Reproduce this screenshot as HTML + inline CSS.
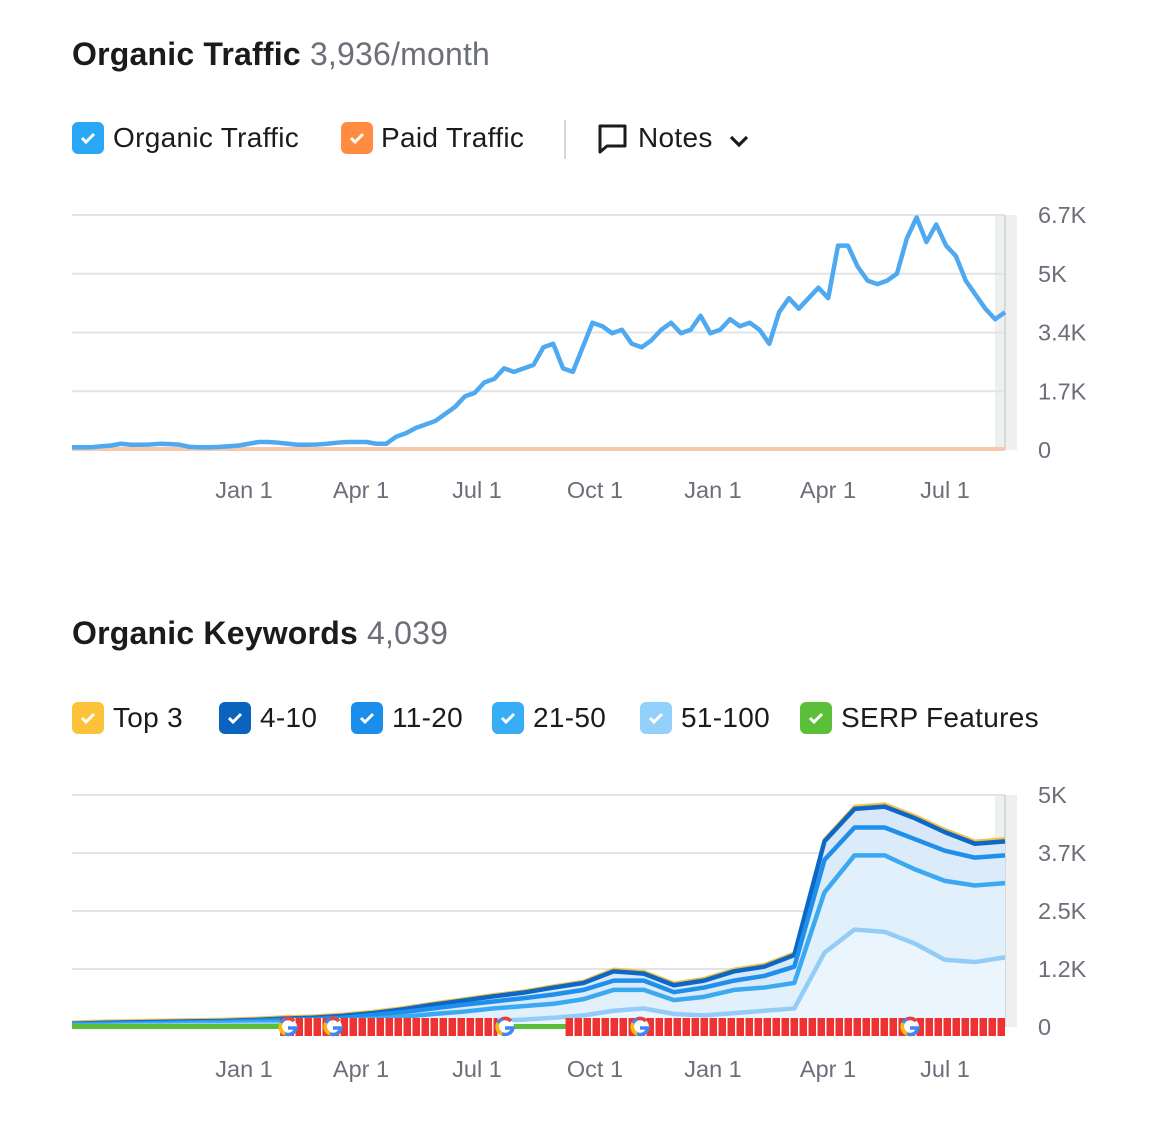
<!DOCTYPE html>
<html><head><meta charset="utf-8"><style>
body{margin:0;background:#fff;width:1160px;height:1142px;overflow:hidden;font-family:"Liberation Sans",sans-serif;position:relative}
.t{position:absolute;white-space:nowrap}
.title{font-size:32px;font-weight:bold;color:#1b1b1d;letter-spacing:0.2px}
.title span{font-weight:normal;color:#6c6e79}
.leg{font-size:28px;color:#1b1b1d;line-height:32px;letter-spacing:0.3px}
.cb{position:absolute;width:32px;height:32px;border-radius:6px}
.cb svg{position:absolute;left:0;top:0}
svg text{font-family:"Liberation Sans",sans-serif}
</style></head><body>
<div class="t title" style="left:72px;top:36px">Organic Traffic <span>3,936/month</span></div>
<div><div class="cb" style="left:72px;top:122px;background:#2ba8f5"><svg width="32" height="32"><path d="M10 16l4 4 8-8" stroke="#fff" stroke-width="3" fill="none"/></svg></div><div class="t leg" style="left:113px;top:122px">Organic Traffic</div></div>
<div><div class="cb" style="left:341px;top:122px;background:#ff8c40"><svg width="32" height="32"><path d="M10 16l4 4 8-8" stroke="#fff" stroke-width="3" fill="none"/></svg></div><div class="t leg" style="left:381px;top:122px">Paid Traffic</div></div>
<div style="position:absolute;left:564px;top:120px;width:2px;height:39px;background:#d6d6d9"></div>
<div><svg style="position:absolute;left:597px;top:123px" width="32" height="32"><path d="M3 3h25v20H10l-7 6z" stroke="#1b1b1d" stroke-width="3" fill="none" stroke-linejoin="round"/></svg><div class="t leg" style="left:638px;top:122px">Notes</div><svg style="position:absolute;left:728px;top:132px" width="22" height="18"><path d="M3 5l8 8 8-8" stroke="#1b1b1d" stroke-width="3.2" fill="none"/></svg></div>

<div class="t title" style="left:72px;top:615px">Organic Keywords <span>4,039</span></div>
<div id="kwleg"></div>

<svg id="c1" style="position:absolute;left:0;top:0" width="1160" height="560"></svg>
<svg id="c2" style="position:absolute;left:0;top:560px" width="1160" height="582"></svg>

<script>
const xTicks=["Jan 1","Apr 1","Jul 1","Oct 1","Jan 1","Apr 1","Jul 1"];
const trafficTicks=["0","1.7K","3.4K","5K","6.7K"];
const trafficTickVals=[0,1.675,3.35,5.025,6.7];
const organicTraffic=[0.05,0.05,0.05,0.08,0.1,0.15,0.12,0.12,0.13,0.15,0.14,0.12,0.06,0.05,0.05,0.06,0.08,0.1,0.15,0.2,0.2,0.18,0.15,0.12,0.12,0.13,0.15,0.18,0.2,0.2,0.2,0.15,0.15,0.35,0.45,0.6,0.7,0.8,1.0,1.2,1.5,1.6,1.9,2.0,2.3,2.2,2.3,2.4,2.9,3.0,2.3,2.2,2.9,3.6,3.5,3.3,3.4,3.0,2.9,3.1,3.4,3.6,3.3,3.4,3.8,3.3,3.4,3.7,3.5,3.6,3.4,3.0,3.9,4.3,4.0,4.3,4.6,4.3,5.8,5.8,5.2,4.8,4.7,4.8,5.0,6.0,6.6,5.9,6.4,5.8,5.5,4.8,4.4,4.0,3.7,3.9];
const paidTraffic=organicTraffic.map(()=>0);
const kwTicks=["0","1.2K","2.5K","3.7K","5K"];
const kwTickVals=[0,1.25,2.5,3.75,5];
const kw51=[0.02,0.02,0.03,0.03,0.04,0.04,0.05,0.05,0.05,0.06,0.07,0.08,0.09,0.11,0.13,0.16,0.2,0.25,0.35,0.4,0.28,0.25,0.3,0.35,0.4,1.6,2.1,2.05,1.8,1.45,1.4,1.5];
const kw21=[0.02,0.03,0.03,0.04,0.04,0.05,0.05,0.05,0.07,0.08,0.11,0.14,0.19,0.22,0.27,0.29,0.3,0.35,0.45,0.4,0.3,0.4,0.5,0.5,0.55,1.3,1.6,1.65,1.6,1.7,1.65,1.6];
const kw11=[0.02,0.02,0.02,0.02,0.02,0.02,0.03,0.05,0.05,0.06,0.08,0.1,0.12,0.15,0.15,0.17,0.2,0.2,0.2,0.2,0.17,0.2,0.2,0.25,0.35,0.7,0.6,0.6,0.65,0.65,0.6,0.6];
const kw4=[0.01,0.02,0.02,0.02,0.02,0.02,0.02,0.03,0.03,0.04,0.04,0.06,0.08,0.09,0.11,0.12,0.15,0.15,0.2,0.15,0.15,0.15,0.2,0.2,0.25,0.4,0.4,0.45,0.45,0.4,0.3,0.3];
const kwTop3=[0.04,0.04,0.04,0.04,0.04,0.04,0.04,0.04,0.04,0.04,0.04,0.04,0.04,0.04,0.04,0.04,0.04,0.04,0.05,0.05,0.05,0.05,0.05,0.05,0.05,0.05,0.06,0.06,0.06,0.06,0.06,0.06];
const legendNames=["Top 3","4-10","11-20","21-50","51-100","SERP Features"];
const legendColors=["#fbc23a","#0a63bd","#1a8eea","#36adf4","#93d0fb","#5cbf3a"];
const serpGaps=[[0,0.223],[0.456,0.529]];

const NS="http://www.w3.org/2000/svg";
function mk(p,tag,a){const e=document.createElementNS(NS,tag);for(const k in a)e.setAttribute(k,a[k]);p.appendChild(e);return e;}
const X0=72,X1=1005;
const tickX=[244,361,477,595,713,828,945];
function xIdx(i,n){return X0+(X1-X0)*i/(n-1);}

const leg=document.getElementById('kwleg');
const lx=[72,219,351,492,640,800];
legendNames.forEach((n,i)=>{
  const d=document.createElement('div');
  
  
  d.innerHTML='<div class="cb" style="left:'+lx[i]+'px;top:702px;background:'+legendColors[i]+'"><svg width="32" height="32"><path d="M10 16l4 4 8-8" stroke="#fff" stroke-width="3" fill="none"/></svg></div><div class="t leg" style="left:'+(lx[i]+41)+'px;top:702px">'+n+'</div>';
  leg.appendChild(d);
});

function axes(svg,yTop,yBot,ticks,vals,max,labelY){
  const y=v=>yBot-(yBot-yTop)*v/max;
  mk(svg,'rect',{x:995,y:yTop,width:22,height:yBot-yTop,fill:'#eef0f0'});
  vals.forEach((v,i)=>{
    const l=mk(svg,'line',{x1:X0,x2:1005,y1:y(v),y2:y(v),stroke:'#e2e3e6','stroke-width':2});
    
    const t=mk(svg,'text',{x:1038,y:y(v)+8,'font-size':23.5,fill:'#6c6e79'});t.textContent=ticks[i];
    
  });
  mk(svg,'line',{x1:1005,x2:1005,y1:yTop,y2:yBot,stroke:'#d5d9d9','stroke-width':2});
  xTicks.forEach((s,i)=>{
    const t=mk(svg,'text',{x:tickX[i],y:labelY,'font-size':23.5,fill:'#6c6e79','text-anchor':'middle'});t.textContent=s;
    
  });
  return y;
}

const c1=document.getElementById('c1');
const y1=axes(c1,215,450,trafficTicks,trafficTickVals,6.7,498);
const pp=mk(c1,'polyline',{points:paidTraffic.map((v,i)=>xIdx(i,paidTraffic.length)+','+(y1(v)-1)).join(' '),fill:'none',stroke:'#f7c8ae','stroke-width':4});

const op=mk(c1,'polyline',{points:organicTraffic.map((v,i)=>xIdx(i,organicTraffic.length)+','+(y1(v)-1)).join(' '),fill:'none',stroke:'#4fa9f0','stroke-width':4.5,'stroke-linejoin':'round'});


const c2=document.getElementById('c2');
const y2=axes(c2,235,467,kwTicks,kwTickVals,5,517);
const series=[kw51,kw21,kw11,kw4,kwTop3];
const cols=["#93cdf7","#3aa9f1","#1f8fec","#0b68c6","#f6c046"];
const names=["51-100-line","21-50-line","11-20-line","4-10-line","top-3-line"];
const n=kw51.length;
let cum=new Array(n).fill(0);const levels=[];
series.forEach(s=>{cum=cum.map((c,i)=>c+s[i]);levels.push(cum.slice());});
const fills=["#eaf5fe","#e2f0fc","#dcebfa","#d8e8f8","#d8e8f8"];
for(let k=levels.length-1;k>=0;k--){
  const pts=levels[k].map((v,i)=>xIdx(i,n)+','+y2(v));
  const a=mk(c2,'polygon',{points:pts.join(' ')+' '+X1+','+y2(0)+' '+X0+','+y2(0),fill:fills[k]});
  
}
for(let k=levels.length-1;k>=0;k--){
  const pl=mk(c2,'polyline',{points:levels[k].map((v,i)=>xIdx(i,n)+','+y2(v)).join(' '),fill:'none',stroke:cols[k],'stroke-width':k==4?3:4.5,'stroke-linejoin':'round'});
  
}
const defs=mk(c2,'defs',{});
const pat=mk(defs,'pattern',{id:'stripe',width:9,height:18,patternUnits:'userSpaceOnUse'});
mk(pat,'rect',{width:9,height:18,fill:'#ee3232'});
mk(pat,'rect',{x:6,width:1.5,height:18,fill:'#fff'});
const sy=y2(0);
serpGaps.forEach(g=>{
  const gl=mk(c2,'rect',{x:X0+(X1-X0)*g[0],y:sy-3,width:(X1-X0)*(g[1]-g[0]),height:5,fill:'#5cbf3a'});
  
});
const reds=[[0.223,0.456],[0.529,1]];
reds.forEach(r=>{
  const rr=mk(c2,'rect',{x:X0+(X1-X0)*r[0],y:sy-9,width:(X1-X0)*(r[1]-r[0]),height:18,fill:'url(#stripe)'});
  
});
[505,640,910,288,333].forEach(gx=>{
  const g=mk(c2,'g',{});
  
  mk(g,'circle',{cx:gx,cy:sy,r:9,fill:'#fff'});
  mk(g,'path',{d:`M${gx+6} ${sy-6}A8 8 0 1 0 ${gx+8} ${sy+1}H${gx}`,stroke:'#4285f4','stroke-width':3.5,fill:'none'});
  mk(g,'path',{d:`M${gx-7} ${sy-4}A8 8 0 0 0 ${gx-3} ${sy+7}`,stroke:'#fbbc05','stroke-width':3.5,fill:'none'});
  mk(g,'path',{d:`M${gx-3} ${sy-8}A8 8 0 0 1 ${gx+6} ${sy-6}`,stroke:'#ea4335','stroke-width':3.5,fill:'none'});
});
</script>
</body></html>
